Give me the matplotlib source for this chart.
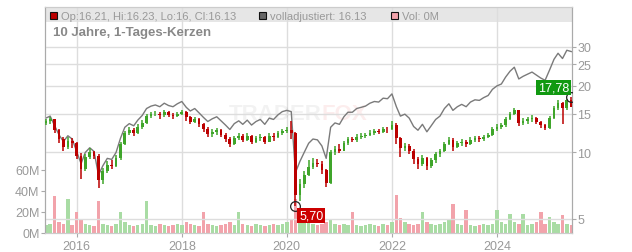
import numpy as np
import pandas as pd
import matplotlib

matplotlib.use("Agg")

import matplotlib.pyplot as plt
from matplotlib.patches import Rectangle

plt.rcParams['font.family'] = ['Liberation Sans', 'DejaVu Sans']

# Monatskerzen (Jun 2015 - Jun 2025)
months = pd.date_range("2015-06-01", periods=121, freq="MS")

close = [13.9, 14.1, 12.6, 11.5, 10.6, 11.3, 11.0, 9.6, 8.4, 9.5,
         10.0, 9.6, 7.5, 8.2, 8.8, 8.7, 9.4, 10.9, 12.2, 12.6,
         12.3, 13.0, 13.6, 14.6, 14.9, 15.0, 14.7, 15.2, 14.8, 14.6,
         15.0, 15.3, 14.4, 13.8, 14.1, 13.4, 12.7, 12.1, 12.4, 12.6,
         12.0, 11.5, 10.9, 11.6, 11.9, 11.4, 11.9, 11.2, 11.6, 11.8,
         11.2, 11.9, 11.7, 12.2, 12.5, 12.6, 12.3, 6.4, 7.2, 7.9,
         8.6, 9.0, 8.9, 8.3, 7.3, 10.0, 10.4, 10.2, 11.0, 11.5,
         11.4, 11.8, 11.9, 12.0, 12.3, 12.5, 12.4, 12.8, 12.7, 13.3,
         11.6, 10.5, 10.7, 10.2, 9.3, 8.9, 9.4, 8.7, 9.2, 9.8,
         10.1, 10.9, 11.4, 10.6, 11.0, 11.2, 10.9, 11.4, 11.6, 11.5,
         11.8, 12.0, 12.7, 13.1, 13.3, 14.2, 15.0, 15.5, 13.6, 13.9,
         14.1, 14.3, 13.8, 13.3, 12.9, 14.3, 15.9, 16.8, 15.9, 17.2,
         16.13]
high = [14.2, 14.5, 14.2, 12.8, 11.7, 11.8, 11.6, 11.2, 9.9, 9.8,
        10.5, 10.2, 9.8, 8.5, 9.1, 9.2, 9.7, 11.2, 12.5, 13.0,
        12.9, 13.4, 14.0, 15.0, 15.2, 15.4, 15.3, 15.5, 15.4, 15.1,
        15.3, 15.6, 15.4, 14.6, 14.4, 14.3, 13.6, 13.0, 12.7, 12.9,
        12.8, 12.2, 11.7, 11.9, 12.2, 12.1, 12.2, 12.0, 11.9, 12.1,
        11.9, 12.2, 12.2, 12.5, 12.8, 13.1, 13.9, 12.4, 7.6, 8.2,
        9.2, 9.4, 9.3, 9.1, 8.4, 10.3, 10.7, 10.9, 11.3, 11.8,
        11.8, 12.1, 12.3, 12.3, 12.6, 12.8, 12.8, 13.1, 13.0, 13.9,
        13.6, 11.8, 11.0, 10.9, 10.4, 9.5, 9.7, 9.5, 9.4, 10.0,
        10.4, 11.1, 11.7, 11.6, 11.3, 11.5, 11.4, 11.7, 11.9, 11.9,
        12.0, 12.3, 13.0, 13.4, 13.6, 14.5, 15.3, 15.9, 15.6, 14.3,
        14.4, 14.7, 14.5, 13.9, 13.5, 14.6, 16.2, 17.2, 17.0, 17.5,
        17.78]
low = [13.3, 13.5, 12.2, 11.0, 10.2, 10.4, 10.5, 9.3, 7.6, 8.2,
       9.3, 9.3, 6.9, 7.2, 8.1, 8.4, 8.6, 9.2, 10.8, 12.0,
       11.9, 12.1, 12.7, 13.5, 14.3, 14.6, 14.2, 14.5, 14.5, 14.2,
       14.5, 14.8, 13.9, 13.5, 13.6, 13.1, 12.4, 11.7, 11.8, 12.0,
       11.7, 11.2, 10.6, 10.8, 11.4, 11.1, 11.3, 10.9, 11.0, 11.3,
       10.9, 11.1, 11.3, 11.6, 12.0, 12.2, 11.5, 5.70, 6.0, 6.9,
       7.8, 8.4, 8.6, 8.0, 7.0, 7.2, 9.7, 9.9, 10.1, 10.8,
       11.1, 11.2, 11.5, 11.6, 11.9, 12.0, 12.1, 12.2, 12.3, 12.6,
       10.9, 9.5, 10.1, 9.8, 8.9, 8.4, 8.7, 8.3, 8.5, 9.0,
       9.5, 10.0, 10.8, 10.2, 10.5, 10.7, 10.6, 10.8, 11.2, 11.2,
       11.3, 11.6, 11.9, 12.5, 12.8, 13.1, 14.0, 14.7, 13.2, 13.3,
       13.5, 13.8, 13.5, 12.9, 12.6, 12.8, 14.1, 15.6, 13.5, 15.6,
       16.0]
adjusted = [14.3, 14.6, 13.2, 12.0, 11.2, 11.9, 11.5, 10.1, 8.9, 10.0,
            10.5, 10.1, 7.9, 8.7, 9.4, 9.3, 10.0, 11.6, 13.0, 13.5,
            13.2, 14.0, 14.7, 15.8, 16.2, 16.4, 16.1, 16.7, 16.3, 16.1,
            16.6, 17.0, 16.0, 15.4, 15.8, 15.1, 14.4, 13.8, 14.2, 14.5,
            13.9, 13.3, 12.7, 13.5, 13.9, 13.4, 14.0, 13.3, 13.8, 14.1,
            13.4, 14.3, 14.1, 14.8, 15.3, 15.5, 15.3, 8.1, 9.1, 10.0,
            11.0, 11.5, 11.4, 10.7, 9.4, 13.0, 13.6, 13.4, 14.5, 15.2,
            15.2, 15.8, 16.0, 16.2, 16.7, 17.0, 16.9, 17.6, 17.5, 18.4,
            16.1, 14.6, 14.9, 14.3, 13.1, 12.6, 13.4, 12.4, 13.2, 14.1,
            14.6, 15.8, 16.6, 15.5, 16.1, 16.5, 16.1, 16.9, 17.3, 17.2,
            17.7, 18.1, 19.3, 20.0, 20.4, 21.9, 23.3, 24.3, 21.5, 22.1,
            22.6, 23.1, 22.4, 21.7, 21.2, 23.6, 26.4, 28.1, 26.6, 29.0,
            28.6]
# Volumen in Mio. Stueck
volume = [8, 9, 35, 10, 9, 32, 8, 20, 12, 9,
          8, 7, 30, 9, 8, 7, 9, 20, 10, 8,
          7, 8, 9, 30, 8, 7, 9, 8, 7, 8,
          9, 8, 10, 9, 8, 7, 20, 9, 8, 7,
          8, 9, 10, 8, 20, 9, 8, 7, 9, 8,
          7, 8, 9, 8, 9, 10, 12, 32, 14, 12,
          10, 9, 8, 9, 10, 12, 9, 8, 9, 8,
          20, 8, 7, 8, 9, 8, 7, 9, 8, 10,
          36, 14, 10, 9, 8, 9, 20, 10, 9, 8,
          9, 10, 12, 28, 9, 8, 22, 8, 7, 8,
          9, 8, 9, 22, 10, 9, 18, 10, 9, 18,
          8, 9, 10, 20, 9, 15, 10, 9, 17, 9,
          8]

year_ticks = ["2016", "2018", "2020", "2022", "2024"]
price_ticks = [5, 10, 15, 20, 25, 30]
vol_ticks = [0, 20, 40, 60]

opens = [13.6] + close[:-1]
up = [c >= o for c, o in zip(close, opens)]
candle_col = ["#3fa52a" if u else "#bb0000" for u in up]
vol_col = ["#a9dca4" if u else "#f2a3ab" for u in up]

fig = plt.figure(figsize=(6.32, 2.53), dpi=100)
ax_vol = fig.add_axes([45 / 632, 19 / 253, 527 / 632, 226 / 253])
ax = ax_vol.twinx()

grey = "#999999"

# Volumen
ax_vol.bar(months, volume, width=24, color=vol_col, zorder=2)
ax_vol.set_ylim(0, 215)
ax_vol.set_yticks(vol_ticks)
ax_vol.set_yticklabels([f"{v}M" for v in vol_ticks])
ax_vol.set_xlim(pd.Timestamp("2015-05-26"), pd.Timestamp("2025-06-06"))
ax_vol.set_xticks([pd.Timestamp(y + "-01-01") for y in year_ticks])
ax_vol.set_xticklabels(year_ticks)
ax_vol.grid(axis="x", color="#dddddd", linewidth=1, zorder=1)
ax_vol.set_axisbelow(True)

# Legendenleiste
ax_vol.add_patch(Rectangle((0, (234 - 23) / 226), 1, 15 / 226, transform=ax_vol.transAxes,
                           facecolor="#e6e6e6", edgecolor="none", zorder=0.3))

# Kerzen
ax.vlines(months, low, high, colors=candle_col, linewidth=1.1, zorder=3)
body_lo = [min(o, c) for o, c in zip(opens, close)]
body_h = [max(abs(c - o), 0.05) for o, c in zip(opens, close)]
ax.bar(months, body_h, bottom=body_lo, width=19, color=candle_col, zorder=3)
ax.plot(months, adjusted, color="#7a7a7a", linewidth=1, zorder=2.5)

ax.set_yscale("log")
ax.set_ylim(4.32, 45.5)
ax.set_yticks(price_ticks)
ax.set_yticklabels([str(p) for p in price_ticks])
ax.yaxis.set_minor_locator(matplotlib.ticker.NullLocator())
ax.grid(axis="y", color="#dddddd", linewidth=1, zorder=0.5)
ax.set_axisbelow(True)

# Min / Max
i_min = int(np.argmin(low))
i_max = int(np.argmax(high))
ax.plot(months[i_min], low[i_min], "o", mfc="none", mec="#222222", ms=7, mew=0.9, zorder=5)
ax.plot(months[i_max], high[i_max], "o", mfc="none", mec="#222222", ms=7, mew=0.9, zorder=5)
ax.annotate(f"{low[i_min]:.2f}".replace(".", ","), (months[i_min], low[i_min]),
            xytext=(11.5, -6.5), textcoords="offset points", ha="center", va="center",
            color="white", fontsize=9,
            bbox=dict(boxstyle="square,pad=0.15", fc="#cc0000", ec="none"), zorder=6)
ax.annotate(f"{high[i_max]:.2f}".replace(".", ","), (months[i_max], high[i_max]),
            xytext=(-13, 7), textcoords="offset points", ha="center", va="center",
            color="white", fontsize=9,
            bbox=dict(boxstyle="square,pad=0.15", fc="#119911", ec="none"), zorder=6)

# Wasserzeichen
ax_vol.text(0.525, 0.527, "TRADER", transform=ax_vol.transAxes, ha="right", va="center",
            fontsize=16, fontweight="bold", color="#000000", alpha=0.05, zorder=1)
ax_vol.text(0.525, 0.527, "FOX", transform=ax_vol.transAxes, ha="left", va="center",
            fontsize=16, fontweight="bold", color="#dd0000", alpha=0.07, zorder=1)

# Achsen
for a in (ax, ax_vol):
    a.spines["top"].set_color("#cccccc")
    a.spines["bottom"].set_color("#cccccc")
    a.spines["left"].set_color("#aaaaaa")
    a.spines["right"].set_color("#aaaaaa")
ax_vol.tick_params(axis="both", colors="#aaaaaa", labelcolor=grey, labelsize=9, length=3)
ax.tick_params(axis="y", colors="#aaaaaa", labelcolor=grey, labelsize=9, length=3, pad=1)
ax_vol.tick_params(axis="y", pad=1)
ax_vol.tick_params(axis="x", pad=2)

# Kopfzeile
legend_items = [(50, "#bb0000", "Op:16.21, Hi:16.23, Lo:16, Cl:16.13"),
                (259, "#666666", "volladjustiert: 16.13"),
                (391, "#f2a3ab", "Vol: 0M")]
for px, col, label in legend_items:
    fig.patches.append(Rectangle((px / 632, 1 - 20 / 253), 7 / 632, 7 / 253,
                                 transform=fig.transFigure, facecolor=col,
                                 edgecolor="#111111", linewidth=0.8))
    fig.text((px + 11) / 632, 1 - 16.5 / 253, label, color=grey, fontsize=8, va="center")
fig.text(53 / 632, 1 - 33 / 253, "10 Jahre, 1-Tages-Kerzen", color="#888888",
         fontsize=9.5, fontweight="bold", va="center")

fig.savefig("out.png", dpi=100)
